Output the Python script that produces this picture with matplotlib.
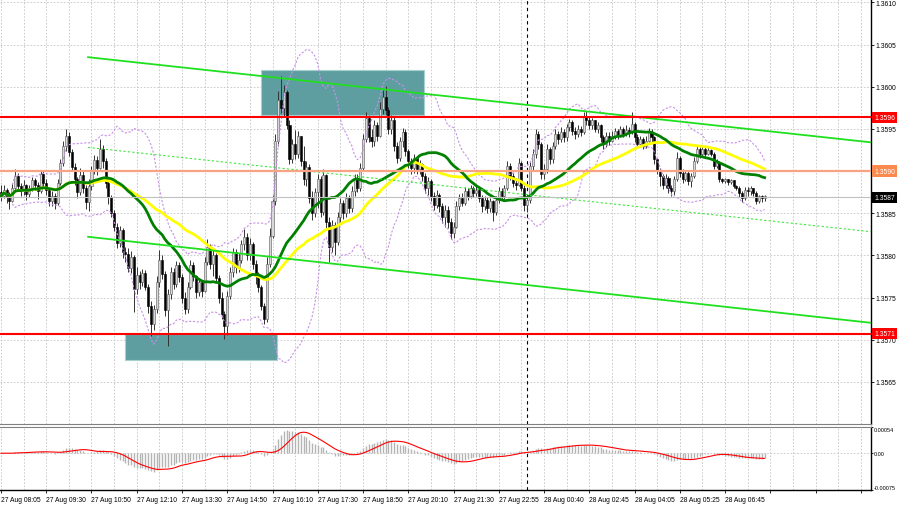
import numpy as np
import pandas as pd
import matplotlib
matplotlib.use('Agg')
import matplotlib.pyplot as plt
from matplotlib import transforms
from matplotlib.patches import Rectangle

plt.rcParams['font.family'] = ['Liberation Sans', 'DejaVu Sans']

# ---- 5 minute bars (open = previous close) ----
first_open = 1.35875

closes = [
    1.35870, 1.35878, 1.35869, 1.35865, 1.35880, 1.35894, 1.35882, 1.35876,
    1.35883, 1.35873, 1.35880, 1.35889, 1.35884, 1.35876, 1.35897, 1.35886,
    1.35877, 1.35864, 1.35870, 1.35862, 1.35886, 1.35909, 1.35930, 1.35942,
    1.35923, 1.35905, 1.35890, 1.35875, 1.35895, 1.35880, 1.35863, 1.35882,
    1.35900, 1.35913, 1.35904, 1.35926, 1.35912, 1.35886, 1.35869, 1.35850,
    1.35834, 1.35815, 1.35830, 1.35804, 1.35802, 1.35785, 1.35798, 1.35760,
    1.35777, 1.35768, 1.35779, 1.35763, 1.35740, 1.35718, 1.35736, 1.35768,
    1.35795, 1.35778, 1.35735, 1.35754, 1.35780, 1.35766, 1.35788, 1.35774,
    1.35750, 1.35736, 1.35763, 1.35788, 1.35775, 1.35756, 1.35768, 1.35758,
    1.35792, 1.35810, 1.35790, 1.35800, 1.35773, 1.35750, 1.35730, 1.35716,
    1.35752, 1.35780, 1.35804, 1.35786, 1.35795, 1.35813, 1.35822, 1.35800,
    1.35814, 1.35790, 1.35776, 1.35762, 1.35740, 1.35724, 1.35790, 1.35823,
    1.35865, 1.35936, 1.35984, 1.35975, 1.35994, 1.35955, 1.35914, 1.35932,
    1.35920, 1.35942, 1.35912, 1.35890, 1.35905, 1.35868, 1.35850, 1.35875,
    1.35890, 1.35852, 1.35895, 1.35840, 1.35810, 1.35836, 1.35816, 1.35846,
    1.35862, 1.35850, 1.35868, 1.35856, 1.35876, 1.35892, 1.35880, 1.35904,
    1.35938, 1.35963, 1.35940, 1.35936, 1.35954, 1.35942, 1.35974, 1.35988,
    1.35972, 1.35950, 1.35960, 1.35930, 1.35916, 1.35936, 1.35946, 1.35924,
    1.35912, 1.35904, 1.35915, 1.35902, 1.35908, 1.35894, 1.35880, 1.35888,
    1.35870, 1.35860, 1.35872, 1.35858, 1.35845, 1.35854, 1.35840, 1.35826,
    1.35834, 1.35858, 1.35868, 1.35862, 1.35876, 1.35870, 1.35880, 1.35874,
    1.35878, 1.35868, 1.35858, 1.35866, 1.35856, 1.35864, 1.35852, 1.35866,
    1.35876, 1.35870, 1.35880, 1.35906, 1.35894, 1.35886, 1.35884, 1.35910,
    1.35880, 1.35860, 1.35866, 1.35906, 1.35920, 1.35944, 1.35932, 1.35896,
    1.35902, 1.35926, 1.35914, 1.35930, 1.35944, 1.35938, 1.35946, 1.35940,
    1.35952, 1.35958, 1.35948, 1.35944, 1.35950, 1.35946, 1.35964, 1.35960,
    1.35954, 1.35960, 1.35950, 1.35954, 1.35940, 1.35932, 1.35942, 1.35936,
    1.35942, 1.35948, 1.35942, 1.35950, 1.35944, 1.35949, 1.35946, 1.35956,
    1.35940, 1.35932, 1.35938, 1.35930, 1.35936, 1.35946, 1.35940, 1.35914,
    1.35900, 1.35894, 1.35884, 1.35892, 1.35880, 1.35876, 1.35890, 1.35916,
    1.35898, 1.35890, 1.35898, 1.35888, 1.35894, 1.35912, 1.35926, 1.35920,
    1.35926, 1.35920, 1.35925, 1.35920, 1.35906, 1.35910, 1.35890, 1.35888,
    1.35890, 1.35887, 1.35889, 1.35882, 1.35880, 1.35874, 1.35868, 1.35878,
    1.35876, 1.35880, 1.35874, 1.35865, 1.35870, 1.35868, 1.35870,
]

highs = [
    1.35883, 1.35884, 1.35880, 1.35875, 1.35886, 1.35902, 1.35898, 1.35886,
    1.35889, 1.35885, 1.35884, 1.35893, 1.35892, 1.35887, 1.35901, 1.35900,
    1.35890, 1.35880, 1.35876, 1.35874, 1.35891, 1.35914, 1.35936, 1.35950,
    1.35946, 1.35926, 1.35910, 1.35893, 1.35903, 1.35900, 1.35884, 1.35890,
    1.35906, 1.35919, 1.35918, 1.35938, 1.35931, 1.35916, 1.35890, 1.35872,
    1.35854, 1.35838, 1.35835, 1.35832, 1.35810, 1.35809, 1.35805, 1.35800,
    1.35786, 1.35782, 1.35784, 1.35783, 1.35766, 1.35746, 1.35741, 1.35775,
    1.35806, 1.35800, 1.35782, 1.35760, 1.35786, 1.35785, 1.35793, 1.35792,
    1.35778, 1.35756, 1.35768, 1.35794, 1.35792, 1.35777, 1.35773, 1.35770,
    1.35798, 1.35819, 1.35814, 1.35806, 1.35803, 1.35777, 1.35756, 1.35734,
    1.35758, 1.35786, 1.35809, 1.35808, 1.35803, 1.35818, 1.35831, 1.35826,
    1.35820, 1.35816, 1.35794, 1.35780, 1.35765, 1.35743, 1.35798, 1.35832,
    1.35872, 1.35944, 1.35995, 1.36013, 1.36002, 1.35996, 1.35960, 1.35938,
    1.35949, 1.35947, 1.35940, 1.35930, 1.35912, 1.35908, 1.35876, 1.35880,
    1.35896, 1.35894, 1.35902, 1.35897, 1.35845, 1.35842, 1.35840, 1.35852,
    1.35868, 1.35866, 1.35874, 1.35872, 1.35882, 1.35897, 1.35896, 1.35909,
    1.35944, 1.35970, 1.35966, 1.35950, 1.35960, 1.35958, 1.35982, 1.35996,
    1.36001, 1.35976, 1.35966, 1.35964, 1.35934, 1.35940, 1.35951, 1.35950,
    1.35926, 1.35916, 1.35920, 1.35918, 1.35913, 1.35910, 1.35898, 1.35893,
    1.35890, 1.35875, 1.35877, 1.35874, 1.35862, 1.35860, 1.35858, 1.35844,
    1.35840, 1.35864, 1.35873, 1.35874, 1.35881, 1.35880, 1.35884, 1.35882,
    1.35883, 1.35880, 1.35872, 1.35870, 1.35869, 1.35868, 1.35866, 1.35870,
    1.35881, 1.35880, 1.35883, 1.35912, 1.35909, 1.35898, 1.35892, 1.35916,
    1.35912, 1.35884, 1.35872, 1.35911, 1.35926, 1.35950, 1.35948, 1.35934,
    1.35908, 1.35932, 1.35928, 1.35935, 1.35950, 1.35948, 1.35952, 1.35950,
    1.35956, 1.35962, 1.35960, 1.35952, 1.35954, 1.35953, 1.35970, 1.35971,
    1.35964, 1.35963, 1.35961, 1.35958, 1.35956, 1.35943, 1.35946, 1.35946,
    1.35947, 1.35951, 1.35950, 1.35953, 1.35952, 1.35954, 1.35952, 1.35970,
    1.35958, 1.35944, 1.35942, 1.35940, 1.35941, 1.35951, 1.35950, 1.35942,
    1.35916, 1.35904, 1.35896, 1.35897, 1.35894, 1.35884, 1.35894, 1.35922,
    1.35918, 1.35902, 1.35901, 1.35900, 1.35898, 1.35917, 1.35930, 1.35928,
    1.35930, 1.35928, 1.35929, 1.35926, 1.35922, 1.35914, 1.35912, 1.35892,
    1.35892, 1.35891, 1.35891, 1.35889, 1.35883, 1.35882, 1.35876, 1.35881,
    1.35881, 1.35882, 1.35880, 1.35876, 1.35872, 1.35872, 1.35872,
]

lows = [
    1.35864, 1.35868, 1.35862, 1.35855, 1.35863, 1.35878, 1.35876, 1.35870,
    1.35872, 1.35866, 1.35869, 1.35876, 1.35877, 1.35867, 1.35874, 1.35880,
    1.35872, 1.35858, 1.35859, 1.35855, 1.35860, 1.35883, 1.35906, 1.35924,
    1.35918, 1.35900, 1.35883, 1.35868, 1.35872, 1.35874, 1.35855, 1.35853,
    1.35878, 1.35896, 1.35895, 1.35902, 1.35904, 1.35880, 1.35861, 1.35846,
    1.35829, 1.35809, 1.35810, 1.35797, 1.35792, 1.35780, 1.35779, 1.35733,
    1.35754, 1.35760, 1.35764, 1.35759, 1.35732, 1.35704, 1.35712, 1.35732,
    1.35762, 1.35772, 1.35728, 1.35692, 1.35748, 1.35760, 1.35762, 1.35768,
    1.35744, 1.35730, 1.35732, 1.35760, 1.35769, 1.35750, 1.35752, 1.35751,
    1.35756, 1.35788, 1.35784, 1.35776, 1.35768, 1.35744, 1.35724, 1.35701,
    1.35706, 1.35748, 1.35774, 1.35779, 1.35780, 1.35791, 1.35806, 1.35794,
    1.35794, 1.35784, 1.35766, 1.35756, 1.35735, 1.35719, 1.35721, 1.35786,
    1.35820, 1.35860, 1.35930, 1.35968, 1.35965, 1.35950, 1.35908, 1.35910,
    1.35914, 1.35916, 1.35906, 1.35884, 1.35882, 1.35862, 1.35842, 1.35846,
    1.35856, 1.35845, 1.35848, 1.35832, 1.35792, 1.35804, 1.35800, 1.35812,
    1.35840, 1.35843, 1.35846, 1.35850, 1.35852, 1.35870, 1.35875, 1.35876,
    1.35900, 1.35934, 1.35934, 1.35928, 1.35930, 1.35936, 1.35940, 1.35968,
    1.35966, 1.35944, 1.35944, 1.35924, 1.35909, 1.35912, 1.35928, 1.35918,
    1.35904, 1.35896, 1.35898, 1.35896, 1.35897, 1.35888, 1.35874, 1.35872,
    1.35864, 1.35854, 1.35856, 1.35852, 1.35838, 1.35834, 1.35833, 1.35819,
    1.35820, 1.35832, 1.35854, 1.35858, 1.35860, 1.35866, 1.35868, 1.35869,
    1.35870, 1.35863, 1.35852, 1.35854, 1.35850, 1.35852, 1.35841, 1.35848,
    1.35862, 1.35866, 1.35867, 1.35878, 1.35889, 1.35881, 1.35878, 1.35882,
    1.35876, 1.35853, 1.35851, 1.35862, 1.35900, 1.35916, 1.35926, 1.35890,
    1.35890, 1.35898, 1.35908, 1.35910, 1.35926, 1.35932, 1.35934, 1.35935,
    1.35936, 1.35948, 1.35943, 1.35938, 1.35940, 1.35941, 1.35944, 1.35954,
    1.35950, 1.35950, 1.35946, 1.35945, 1.35935, 1.35926, 1.35929, 1.35931,
    1.35934, 1.35938, 1.35938, 1.35940, 1.35940, 1.35941, 1.35940, 1.35944,
    1.35934, 1.35928, 1.35928, 1.35926, 1.35927, 1.35934, 1.35935, 1.35908,
    1.35896, 1.35882, 1.35879, 1.35880, 1.35874, 1.35870, 1.35872, 1.35888,
    1.35893, 1.35886, 1.35888, 1.35884, 1.35881, 1.35892, 1.35910, 1.35916,
    1.35918, 1.35917, 1.35919, 1.35918, 1.35902, 1.35903, 1.35887, 1.35886,
    1.35886, 1.35884, 1.35885, 1.35880, 1.35878, 1.35869, 1.35863, 1.35866,
    1.35870, 1.35872, 1.35870, 1.35861, 1.35862, 1.35863, 1.35865,
]

time_labels = ['27 Aug 08:05', '27 Aug 09:30', '27 Aug 10:50', '27 Aug 12:10',
               '27 Aug 13:30', '27 Aug 14:50', '27 Aug 16:10', '27 Aug 17:30',
               '27 Aug 18:50', '27 Aug 20:10', '27 Aug 21:30', '27 Aug 22:55',
               '28 Aug 00:40', '28 Aug 02:45', '28 Aug 04:05', '28 Aug 05:25',
               '28 Aug 06:45']
label_every = 16          # bars between time labels
day_break = 186           # first bar of 28 Aug

# horizontal levels
level_prices = [1.35964, 1.35900, 1.35869, 1.35707]
level_labels = ['1.3596', '1.3590', '1.3587', '1.3571']

# channel anchors: bar index and price at both ends
chan_x = [30.8, 307.6]
chan_upper = [1.36035, 1.35934]
chan_mid = [1.35928, 1.35828]
chan_lower = [1.35822, 1.35720]

# shaded zones: bar from, bar to, price low, price high
zone_x0 = [43.8, 91.8]
zone_x1 = [97.6, 149.7]
zone_lo = [1.35676, 1.35966]
zone_hi = [1.35707, 1.36020]

macd_top, macd_bottom = 0.00054, -0.00075

# ---- arrays / indicators ----
c = np.array(closes)
o = np.r_[first_open, c[:-1]]
hi = np.maximum(np.array(highs), np.maximum(o, c))
lo = np.minimum(np.array(lows), np.minimum(o, c))
x = np.arange(len(c))
bull = c >= o

s = pd.Series(c)
ma30 = s.rolling(30, min_periods=1).mean()
ma50 = s.rolling(50, min_periods=1).mean()
bb_mid = s.rolling(20, min_periods=5).mean()
bb_sd = s.rolling(20, min_periods=5).std(ddof=0)
bb_up = bb_mid + 2 * bb_sd
bb_dn = bb_mid - 2 * bb_sd
macd = s.ewm(span=12, adjust=False).mean() - s.ewm(span=26, adjust=False).mean()
signal = macd.rolling(9, min_periods=1).mean()

# ---- figure ----
W, H = 900, 506
fig = plt.figure(figsize=(W / 100, H / 100), dpi=100)
fig.patch.set_facecolor('white')
ax = fig.add_axes([0, 1 - 425 / H, 871 / W, 425 / H])
ax2 = fig.add_axes([0, 1 - 491 / H, 871 / W, 63 / H])

xlim = (-0.35, 307.6)
grid_kw = dict(color='#c4c4c4', lw=0.6, ls=(0, (2, 2)))
fs = 4.9

for a in (ax, ax2):
    a.set_xlim(*xlim)
    a.set_xticks(np.arange(0, 308, label_every))
    a.set_xticks(np.arange(0, 308, label_every // 2), minor=True)
    a.grid(True, axis='x', which='both', **grid_kw)
    a.spines['left'].set_visible(False)
    a.spines['right'].set_linewidth(1.0)
    a.axvline(day_break, color='black', lw=0.8, ls=(0, (3, 3)), zorder=2)
    a.set_axisbelow(True)

# main panel
ax.set_ylim(1.35600, 1.36104)
yt = [round(1.3565 + 0.0005 * k, 4) for k in range(10)]
ax.set_yticks(yt)
ax.set_yticklabels(['' if abs(v - 1.3590) < 1e-6 else '%.4f' % v for v in yt])
ax.yaxis.tick_right()
ax.grid(True, axis='y', **grid_kw)
ax.tick_params(axis='y', direction='out', length=2, width=0.6, pad=1.0, labelsize=fs)
ax.tick_params(axis='x', which='both', length=0, labelbottom=False)
ax.spines['top'].set_visible(False)
ax.spines['bottom'].set_color('#808080')

for x0, x1, p0, p1 in zip(zone_x0, zone_x1, zone_lo, zone_hi):
    ax.add_patch(Rectangle((x0, p0), x1 - x0, p1 - p0, facecolor='#5f9ea0',
                           edgecolor='#a8d0d0', lw=0.8, zorder=1))

# candles
ax.vlines(x, lo, hi, colors='#333333', lw=0.7, zorder=3)
body_lo = np.minimum(o, c)
body_h = np.maximum(np.abs(c - o), 0.000015)
ax.bar(x, body_h, bottom=body_lo, width=0.72,
       color=np.where(bull, '#d8d8d8', '#000000'),
       edgecolor=np.where(bull, '#555555', '#000000'), lw=0.4, zorder=3)

# bollinger bands
ax.plot(x, bb_up, color='#c791e8', lw=0.8, ls=(0, (2, 1.5)), zorder=4)
ax.plot(x, bb_dn, color='#c791e8', lw=0.8, ls=(0, (2, 1.5)), zorder=4)

# moving averages
ax.plot(x, ma50, color='#ffff00', lw=2.0, zorder=5)
ax.plot(x, ma30, color='#008000', lw=2.0, zorder=5)

# channel
ax.plot(chan_x, chan_upper, color='#1fe01f', lw=1.3, zorder=5)
ax.plot(chan_x, chan_lower, color='#1fe01f', lw=1.3, zorder=5)
ax.plot(chan_x, chan_mid, color='#3fe83f', lw=0.8, ls=(0, (2, 2)), zorder=5)

# levels
level_line = ['#ff0000', '#f7a384', '#c0c0c0', '#ff0000']
level_box = ['#ff0000', '#fb8a4e', '#000000', '#ff0000']
level_lw = [1.5, 1.6, 0.8, 1.5]
tr = transforms.blended_transform_factory(ax.transAxes, ax.transData)
for p, txt, lc, bc, lw in zip(level_prices, level_labels, level_line, level_box, level_lw):
    ax.axhline(p, color=lc, lw=lw, zorder=6)
    ax.text(1.0035, p, txt, transform=tr, color='white', fontsize=fs,
            ha='left', va='center', clip_on=False, zorder=10,
            bbox=dict(boxstyle='square,pad=0.3', fc=bc, ec='none'))

# MACD panel
ax2.set_ylim(macd_bottom, macd_top)
ax2.vlines(x, 0, macd, colors='#b4b4b4', lw=1.0, zorder=3)
ax2.plot(x, signal, color='#ff0000', lw=0.8, zorder=4)
ax2.axhline(0, **grid_kw)
ax2.set_yticks([macd_top, 0, macd_bottom])
ax2.set_yticklabels(['%.5f' % macd_top, '0.00', '%.5f' % macd_bottom])
ax2.yaxis.tick_right()
ax2.tick_params(axis='y', direction='out', length=1.5, width=0.6, pad=0.5, labelsize=4.0)
yl = ax2.get_yticklabels()
yl[0].set_va('top')
yl[2].set_va('bottom')
ax2.spines['top'].set_color('#808080')
ax2.spines['bottom'].set_linewidth(1.0)

xt = np.arange(0, 308, label_every)
ax2.set_xticklabels([time_labels[i] if i < len(time_labels) else '' for i in range(len(xt))])
ax2.tick_params(axis='x', which='major', direction='out', length=2.5, width=0.6,
                pad=1.5, labelsize=fs)
ax2.tick_params(axis='x', which='minor', length=0)
for lbl in ax2.get_xticklabels():
    lbl.set_ha('left')

fig.savefig('out.png', dpi=100, facecolor='white')
